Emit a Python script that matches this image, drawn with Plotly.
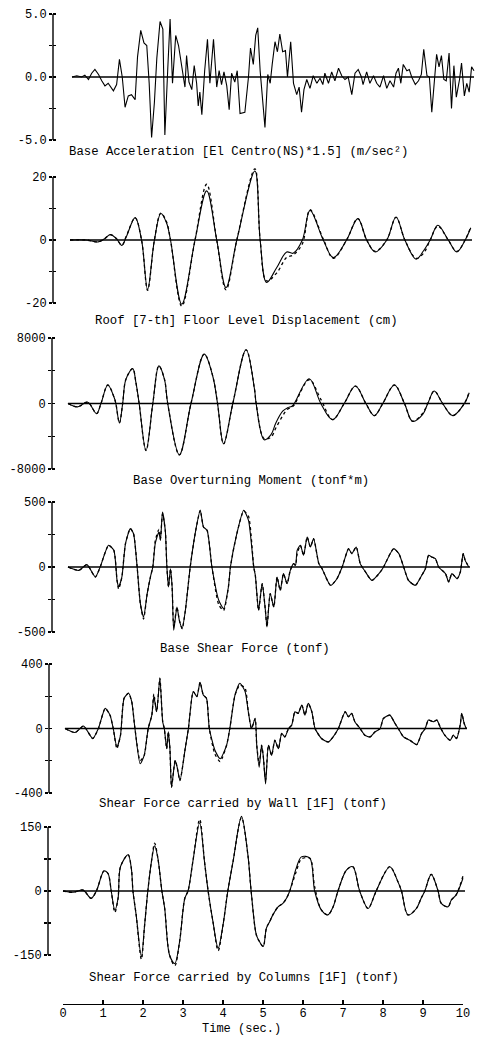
import plotly.graph_objects as go

W, H = 477, 1040
FONT = "Liberation Mono, Courier New, monospace"

# ---------------- data ----------------
time_ticks = [0, 1, 2, 3, 4, 5, 6, 7, 8, 9, 10]

acc_t = [0.00,0.12,0.24,0.32,0.41,0.49,0.57,0.66,0.74,0.82,
         0.90,1.03,1.11,1.18,1.25,1.32,1.40,1.48,1.57,1.63,
         1.71,1.79,1.86,1.92,1.98,2.05,2.11,2.19,2.26,2.31,
         2.38,2.44,2.50,2.58,2.65,2.73,2.77,2.81,2.85,2.91,
         2.98,3.04,3.10,3.14,3.18,3.23,3.30,3.37,3.43,3.52,
         3.60,3.66,3.72,3.78,3.85,3.91,3.97,4.05,4.11,4.18,
         4.30,4.39,4.44,4.51,4.57,4.62,4.68,4.72,4.80,4.87,
         4.93,4.98,5.05,5.11,5.17,5.24,5.31,5.36,5.44,5.51,
         5.59,5.65,5.71,5.77,5.84,5.92,6.00,6.09,6.17,6.24,
         6.29,6.38,6.46,6.54,6.63,6.71,6.79,6.87,6.96,7.04,
         7.12,7.20,7.24,7.33,7.41,7.50,7.58,7.66,7.75,7.83,
         7.91,8.00,8.06,8.12,8.18,8.24,8.33,8.39,8.45,8.54,
         8.62,8.69,8.75,8.83,8.89,8.95,9.01,9.07,9.13,9.19,
         9.25,9.31,9.38,9.44,9.50,9.56,9.64,9.69,9.76,9.82,
         9.88,9.94,10.0]
acc_v = [0.0,0.1,0.0,0.15,-0.2,0.3,0.6,0.2,-0.3,-0.7,
         -0.5,-1.1,-0.6,1.4,0.0,-2.4,-1.5,-1.4,-1.8,1.6,
         3.7,2.7,2.5,-0.5,-4.8,-2.0,1.5,4.4,3.8,-4.6,
         0.5,4.6,-0.5,3.3,2.5,1.0,0.0,-0.8,1.7,-0.4,
         -1.0,0.9,-0.5,-2.3,-1.2,-3.0,0.5,3.0,-0.5,3.0,
         -0.8,0.5,-0.6,0.4,-0.7,-2.6,0.3,-0.4,0.5,-2.9,
         -2.8,0.0,2.3,1.0,3.3,3.9,0.5,-0.8,-4.0,0.2,
         -0.5,1.0,2.8,2.0,3.4,2.0,2.1,0.0,2.8,-0.5,
         -1.4,-0.8,-2.8,-1.0,-0.2,-0.9,0.1,-0.5,-0.1,-0.6,
         0.3,-0.5,0.4,-0.3,0.7,0.1,-0.2,0.0,-1.4,0.3,
         0.6,0.0,-0.6,0.4,-0.5,0.1,-0.5,-0.8,0.1,-0.9,
         -0.3,-0.8,0.3,0.7,-0.5,1.0,0.5,0.6,0.0,-0.6,
         -0.3,0.2,2.2,0.1,0.0,-2.8,-0.3,1.8,0.8,1.7,
         -0.2,-0.3,1.9,-2.5,0.9,-1.6,-0.2,1.1,-1.5,-0.5,
         -1.2,0.8,0.5]

disp_t = [0.0,0.40,0.70,0.85,1.00,1.15,1.29,1.40,1.62,1.78,
          1.93,2.10,2.26,2.40,2.50,2.78,3.11,3.40,3.65,3.88,
          4.15,4.60,4.73,4.89,5.14,5.39,5.55,5.78,5.97,6.30,
          6.55,6.88,7.16,7.38,7.59,7.88,8.11,8.33,8.61,8.79,
          8.96,9.15,9.41,9.62,9.83,9.97]
disp_solid = [0,0,-0.6,0.3,1.7,0.5,-1.7,1.0,7.1,0,
              -15.7,0,8.4,5.5,0,-20.4,0,15.6,0,-15.1,
              0,21.9,0,-13.5,-8.8,-3.8,-4.2,0,9.4,0,
              -5.6,0,6.8,0,-3.8,0,7.3,0,-6.1,-3.5,
              0,4.7,0,-3.8,0,3.9]
disp_dot = [0,0,-0.6,0.3,1.7,0.5,-1.7,1.2,7.0,0,
            -16.0,0,8.5,5.8,0,-21.0,0,17.7,0,-15.8,
            0,22.6,0,-13.0,-10.5,-5.5,-4.8,-1.2,9.6,0.3,
            -5.8,0,6.8,0,-3.6,0,7.2,0,-5.8,-4.3,
            0,4.4,0,-3.6,0,4.2]

mom_t = [0,0.24,0.49,0.71,0.82,0.99,1.15,1.19,1.28,1.36,
         1.44,1.61,1.69,1.77,1.94,2.11,2.26,2.40,2.48,2.77,
         3.06,3.39,3.60,3.72,3.87,4.10,4.43,4.64,4.68,4.88,
         5.05,5.17,5.34,5.46,5.57,5.63,6.00,6.29,6.58,6.87,
         7.15,7.41,7.62,7.83,8.12,8.37,8.57,8.82,8.95,9.11,
         9.32,9.57,9.86,9.98]
mom_solid = [0,-410,160,-1230,0,2260,700,0,-2380,0,
             2950,4260,2540,0,-5740,0,4590,2950,0,-6270,
             0,6030,3360,0,-4920,0,6560,1720,0,-4430,
             -3810,-2380,-940,-530,-330,0,3030,0,-1970,0,
             2130,0,-1480,0,2260,0,-2170,-1350,0,1520,
             0,-1480,0,1310]
mom_dot = [0,-410,160,-1230,0,2260,700,0,-2380,0,
           2950,4260,2540,0,-5740,0,4590,2950,0,-6270,
           0,6030,3360,0,-4920,0,6560,1720,0,-4300,
           -4100,-3000,-1500,-700,-450,-150,2900,500,-1970,0,
           2130,0,-1480,0,2260,0,-2170,-1200,0,1520,
           0,-1480,0,1450]

bs_t = [0,0.27,0.47,0.68,0.80,1.01,1.14,1.22,1.26,1.34,
        1.43,1.55,1.63,1.72,1.80,1.88,1.97,2.05,2.11,2.17,
        2.26,2.30,2.35,2.42,2.46,2.50,2.55,2.59,2.63,2.71,
        2.77,2.84,2.92,3.04,3.17,3.29,3.37,3.46,3.58,3.75,
        3.87,3.99,4.04,4.20,4.37,4.49,4.62,4.66,4.74,4.83,
        4.91,4.95,5.03,5.12,5.20,5.28,5.36,5.45,5.53,5.61,
        5.66,5.70,5.78,5.86,5.95,6.03,6.11,6.24,6.32,6.53,
        6.69,6.82,6.98,7.06,7.17,7.27,7.40,7.56,7.77,7.85,
        8.10,8.23,8.35,8.47,8.64,8.80,8.89,8.97,9.05,9.14,
        9.22,9.39,9.47,9.55,9.68,9.76,9.83,9.88,9.97]
bs_solid = [0,-26,18,-77,0,167,128,-103,-154,-77,
            180,295,256,0,-282,-385,-205,-77,0,180,
            269,205,423,282,0,-154,-13,-154,-487,-308,
            -410,-474,-333,0,269,436,308,282,0,-256,
            -320,-154,0,256,436,359,0,-64,-333,-128,
            -333,-461,-205,-308,-77,-180,-51,-128,-26,26,
            13,128,167,90,231,154,218,26,-13,-141,
            -90,0,141,103,154,26,-38,-103,-38,0,
            141,103,0,-103,-141,-64,-13,90,77,64,
            0,-51,-115,-51,-90,-38,103,51,0]
bs_dot = [0,-26,18,-77,0,167,128,-103,-170,-77,
          180,295,256,0,-282,-400,-205,-77,0,200,
          290,215,410,282,0,-154,-13,-154,-460,-308,
          -410,-474,-333,0,269,436,308,282,0,-290,
          -335,-154,0,256,430,390,0,-64,-333,-128,
          -333,-461,-205,-308,-77,-180,-51,-128,-26,26,
          13,100,167,90,231,154,218,26,-13,-141,
          -90,0,141,103,154,26,-38,-103,-38,0,
          141,103,0,-103,-141,-64,-13,90,77,64,
          0,-51,-115,-51,-90,-38,103,51,0]

ws_t = [0,0.25,0.46,0.69,0.83,1.00,1.12,1.20,1.29,1.38,
        1.47,1.58,1.66,1.74,1.87,1.97,2.07,2.16,2.21,2.28,
        2.36,2.43,2.47,2.53,2.57,2.61,2.65,2.74,2.79,2.86,
        2.99,3.07,3.19,3.28,3.36,3.44,3.52,3.59,3.73,3.86,
        4.02,4.10,4.23,4.35,4.48,4.56,4.64,4.73,4.77,4.83,
        4.89,4.93,4.99,5.06,5.14,5.22,5.31,5.39,5.47,5.56,
        5.64,5.72,5.80,5.89,5.97,6.05,6.14,6.22,6.38,6.55,
        6.67,6.80,6.97,7.05,7.13,7.21,7.34,7.46,7.59,7.71,
        7.84,7.92,8.08,8.21,8.29,8.42,8.58,8.75,8.87,8.96,
        9.04,9.16,9.25,9.33,9.45,9.58,9.66,9.74,9.83,9.87,
        9.93,9.98]
ws_solid = [0,-25,15,-62,0,125,83,0,-115,-42,
            188,219,167,0,-219,-167,0,83,198,104,
            312,42,0,-125,-21,-125,-365,-198,-240,-323,
            -125,0,229,198,287,208,188,0,-135,-188,
            -104,0,208,281,229,104,0,62,-104,-240,
            -104,-167,-344,-104,-167,-73,-125,-31,-52,0,
            21,104,94,146,83,156,104,0,-62,-83,
            -52,0,104,73,94,42,0,-42,-52,-21,
            0,62,83,31,0,-52,-73,-100,-31,0,
            52,42,52,10,-42,-73,-42,-62,21,94,
            31,0]
ws_dot = [0,-25,15,-62,0,125,83,0,-125,-42,
          188,219,167,0,-200,-167,0,83,215,104,
          312,42,0,-125,-21,-125,-365,-198,-240,-323,
          -125,0,229,198,287,208,188,0,-160,-205,
          -104,0,208,270,250,104,0,62,-104,-220,
          -104,-167,-320,-104,-167,-73,-125,-31,-52,0,
          21,104,94,146,83,156,104,0,-62,-83,
          -52,0,104,73,94,42,0,-42,-52,-21,
          0,62,83,31,0,-52,-73,-100,-31,0,
          52,42,52,10,-42,-73,-42,-62,21,94,
          31,0]

col_t = [0,0.25,0.50,0.70,0.83,1.02,1.12,1.20,1.29,1.37,
         1.43,1.62,1.70,1.74,1.82,1.95,2.03,2.11,2.20,2.28,
         2.36,2.46,2.53,2.65,2.78,2.90,3.03,3.11,3.23,3.40,
         3.52,3.61,3.73,3.86,3.98,4.10,4.23,4.44,4.60,4.68,
         4.81,4.89,4.98,5.06,5.14,5.22,5.35,5.47,5.56,5.64,
         5.80,5.93,6.14,6.26,6.43,6.59,6.72,6.84,7.05,7.21,
         7.38,7.59,7.75,7.79,8.13,8.33,8.42,8.58,8.79,8.91,
         9.00,9.16,9.33,9.41,9.58,9.66,9.78,9.95]
col_solid = [0,-3,2,-17,0,47,41,0,-45,-17,
             57,85,53,0,-56,-154,-80,0,69,106,
             77,0,-41,-150,-170,-119,-17,0,69,160,
             69,0,-72,-134,-80,0,69,175,84,0,
             -103,-119,-130,-87,-72,-56,-37,-29,-17,0,
             53,80,77,0,-45,-56,-37,0,49,57,
             0,-41,-9,0,57,22,0,-56,-41,-17,
             0,39,0,-29,-37,-21,-9,30]
col_dot = [0,-3,2,-17,0,47,41,0,-50,-17,
           57,85,53,0,-56,-160,-80,0,69,112,
           77,0,-41,-150,-175,-119,-17,0,69,168,
           69,0,-72,-140,-80,0,69,172,84,0,
           -103,-119,-130,-87,-72,-56,-37,-29,-17,0,
           45,75,77,10,-45,-56,-37,0,49,57,
           0,-41,-9,0,57,22,0,-56,-41,-17,
           0,39,0,-29,-37,-21,-9,35]

titles = ["Base Acceleration [El Centro(NS)*1.5] (m/sec\u00b2)",
          "Roof [7-th] Floor Level Displacement (cm)",
          "Base Overturning Moment (tonf*m)",
          "Base Shear Force (tonf)",
          "Shear Force carried by Wall [1F] (tonf)",
          "Shear Force carried by Columns [1F] (tonf)"]
y_limits = [5.0, 20, 8000, 500, 400, 150]
y_labels = [["-5.0", "0.0", "5.0"], ["-20", "0", "20"], ["-8000", "0", "8000"],
            ["-500", "0", "500"], ["-400", "0", "400"], ["-150", "0", "150"]]
series = [(acc_t, acc_v, None), (disp_t, disp_solid, disp_dot), (mom_t, mom_solid, mom_dot),
          (bs_t, bs_solid, bs_dot), (ws_t, ws_solid, ws_dot), (col_t, col_solid, col_dot)]

# ---------------- layout geometry (pixels) ----------------
PX_PER_S = 40.2
PAD = 1.2  # extra headroom so peaks beyond the end ticks are not clipped
geom = [  # axis_px, start_px, top_px, bottom_px, title_cx, title_cy, line_shape, smoothing
    (53, 72, 14, 140, 238, 152, "linear", 0),
    (53, 70, 177, 303, 246, 321, "spline", 1.0),
    (52, 68, 338, 469, 251, 481, "spline", 1.0),
    (52, 68, 502, 632, 245, 649, "spline", 0.6),
    (49, 65, 664, 793, 243, 804, "spline", 0.6),
    (48, 63, 827, 955, 244, 978, "spline", 0.9),
]

fig = go.Figure()
layout = dict(template="none", width=W, height=H, autosize=False,
              margin=dict(l=0, r=0, t=0, b=0, pad=0),
              paper_bgcolor="white", plot_bgcolor="rgba(0,0,0,0)",
              showlegend=False, hovermode=False,
              font=dict(family=FONT, color="black", size=12))
shapes, annotations = [], []

for i in range(1, 7):
    t, solid, dotted = series[i - 1]
    R = y_limits[i - 1]
    labs = y_labels[i - 1]
    axis_px, start_px, top_px, bot_px, tcx, tcy, lshape, smooth = geom[i - 1]
    xr = "x" if i == 1 else f"x{i}"
    yr = "y" if i == 1 else f"y{i}"
    xk = "xaxis" if i == 1 else f"xaxis{i}"
    yk = "yaxis" if i == 1 else f"yaxis{i}"
    ov = 7 + i
    r0 = -(start_px - axis_px) / PX_PER_S
    r1 = r0 + (W - axis_px) / PX_PER_S
    tickvals = [-R, -R / 2, 0, R / 2, R]
    ticktext = [labs[0], "", labs[1], "", labs[2]]
    mid = (top_px + bot_px) / 2
    half = (bot_px - top_px) / 2 * PAD
    dom_y = [max(0, 1 - (mid + half) / H), min(1, 1 - (mid - half) / H)]

    layout[xk] = dict(domain=[axis_px / W, 1], range=[r0, r1], visible=False,
                      anchor=yr, fixedrange=True, automargin=False)
    layout[yk] = dict(domain=dom_y, range=[-R * PAD, R * PAD], anchor=xr, side="left",
                      showline=False, automargin=False,
                      ticks="outside", ticklen=3, tickwidth=1.2, tickcolor="black",
                      tickvals=tickvals, ticktext=ticktext,
                      tickfont=dict(family=FONT, size=12, color="black"),
                      showgrid=False, zeroline=False, fixedrange=True)
    layout[f"yaxis{ov}"] = dict(overlaying=yr, anchor=xr, side="left",
                                range=[-R * PAD, R * PAD], automargin=False,
                                showline=False, ticks="inside", ticklen=3, tickwidth=1.2,
                                tickcolor="black", tickvals=tickvals, showticklabels=False,
                                showgrid=False, zeroline=False, fixedrange=True)
    fig.add_trace(go.Scatter(x=[None], y=[None], xaxis=xr, yaxis=f"y{ov}",
                             showlegend=False, hoverinfo="skip"))

    # vertical axis line spanning only between the end ticks
    shapes.append(dict(type="line", xref=f"{xr} domain", yref=yr, x0=0, x1=0,
                       y0=-R, y1=R, line=dict(color="black", width=1.4)))
    # zero (base) line across the record
    shapes.append(dict(type="line", xref=xr, yref=yr, x0=time_ticks[0], x1=time_ticks[-1],
                       y0=0, y1=0, line=dict(color="black", width=1.6)))

    line_kw = dict(shape=lshape)
    if lshape == "spline":
        line_kw["smoothing"] = smooth
    if dotted is not None:
        fig.add_trace(go.Scatter(x=t, y=dotted, mode="lines", xaxis=xr, yaxis=yr,
                                 line=dict(color="black", width=1.3, dash="dot", **line_kw),
                                 hoverinfo="skip"))
    fig.add_trace(go.Scatter(x=t, y=solid, mode="lines", xaxis=xr, yaxis=yr,
                             line=dict(color="black", width=1.1, **line_kw),
                             hoverinfo="skip"))

    annotations.append(dict(text=titles[i - 1], x=tcx / W, y=1 - tcy / H, xref="paper",
                            yref="paper", xanchor="center", yanchor="middle",
                            showarrow=False, font=dict(family=FONT, size=12.3, color="black")))

# bottom time axis
layout["xaxis7"] = dict(domain=[63 / W, 463 / W], range=[time_ticks[0], time_ticks[-1]],
                        anchor="y7", side="bottom", showline=True, linecolor="black",
                        linewidth=1.4, ticks="inside", ticklen=4, tickwidth=1.2,
                        tickcolor="black", tickvals=time_ticks,
                        ticktext=[str(v) for v in time_ticks],
                        ticklabeloverflow="allow", ticklabelstandoff=-3,
                        tickfont=dict(family=FONT, size=12, color="black"),
                        showgrid=False, zeroline=False, fixedrange=True, automargin=False)
layout["yaxis7"] = dict(domain=[1 - 1004 / H, 1 - 1000 / H], range=[0, 1], visible=False,
                        anchor="x7", fixedrange=True, automargin=False)
fig.add_trace(go.Scatter(x=[None], y=[None], xaxis="x7", yaxis="y7",
                         showlegend=False, hoverinfo="skip"))
annotations.append(dict(text="Time (sec.)", x=242 / W, y=1 - 1029 / H, xref="paper",
                        yref="paper", xanchor="center", yanchor="middle", showarrow=False,
                        font=dict(family=FONT, size=12, color="black")))

layout["shapes"] = shapes
layout["annotations"] = annotations
fig.update_layout(**layout)
fig.write_html("out.html", config={"displayModeBar": False, "staticPlot": True},
               post_script="document.body.style.margin='0';document.body.style.overflow='hidden';")
